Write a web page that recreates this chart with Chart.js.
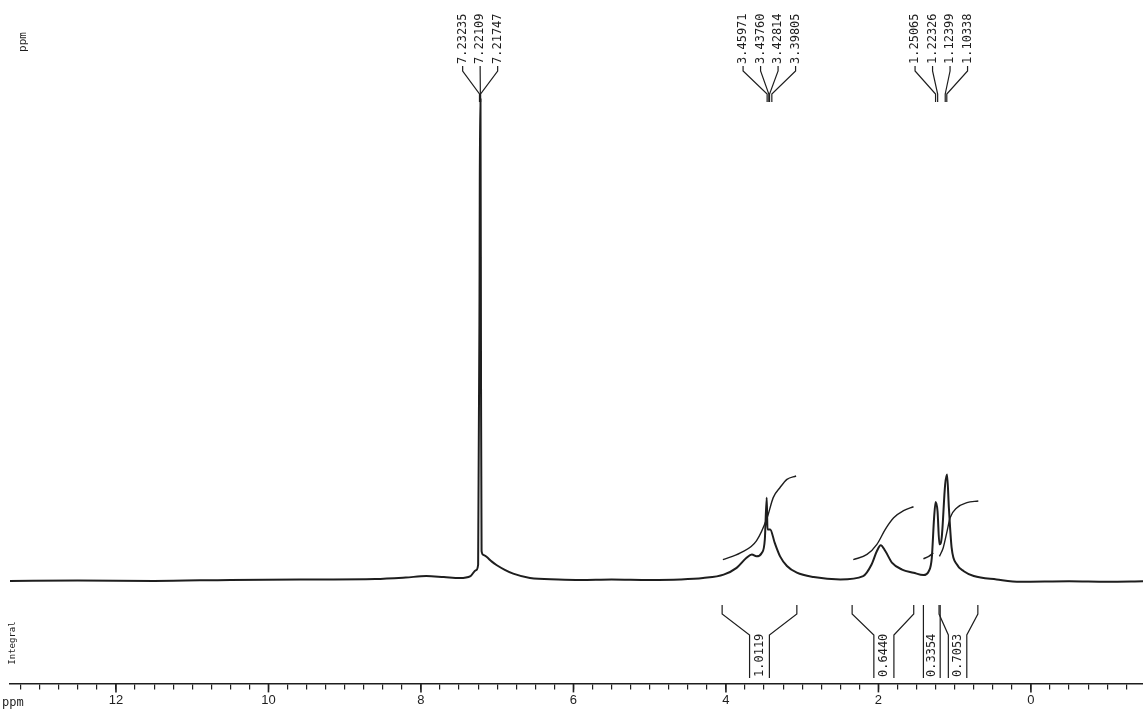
<!DOCTYPE html>
<html>
<head>
<meta charset="utf-8">
<script src="https://cdn.jsdelivr.net/npm/chart.js@4"></script>
<style>
  html, body { margin: 0; padding: 0; background: #fff; }
  #wrap { width: 1143px; height: 713px; position: relative; }
</style>
</head>
<body>
<div id="wrap"><canvas id="nmrChart"></canvas></div>
<script>
// spectrum trace (chemical shift in ppm, relative intensity)
const shiftPpm = [13.39, 12.5, 11.5, 10.5, 9.5, 8.6, 8.2, 7.93, 7.7, 7.49, 7.35, 7.28, 7.25,
    7.232, 7.225, 7.219, 7.212, 7.205, 7.18, 7.14, 7.07, 7.01, 6.9, 6.79, 6.57, 6.2, 5.91, 5.5, 5.0,
    4.6, 4.3, 4.03, 3.86, 3.73, 3.66, 3.60, 3.53, 3.49, 3.465, 3.455, 3.42, 3.36, 3.29, 3.20, 3.07,
    2.85, 2.50, 2.20, 2.09, 2.02, 1.97, 1.91, 1.82, 1.69, 1.54, 1.41, 1.34, 1.30, 1.27, 1.25, 1.225,
    1.20, 1.17, 1.125, 1.10, 1.076, 1.04, 0.97, 0.88, 0.75, 0.45, 0.14, -0.5, -1.0, -1.47];
const intensity = [0.0, 0.1, 0.0, 0.2, 0.3, 0.4, 0.7, 1.0, 0.8, 0.6, 1.0, 2.2, 3.4,
    60, 100, 100, 40, 6.2, 5.4, 5.0, 4.0, 3.3, 2.3, 1.5, 0.6, 0.3, 0.2, 0.3, 0.2,
    0.3, 0.6, 1.3, 2.7, 4.8, 5.5, 5.1, 5.8, 8.6, 17.3, 10.7, 10.7, 7.9, 5.1, 3.1, 1.7,
    0.8, 0.3, 1.0, 3.4, 6.2, 7.4, 6.2, 3.75, 2.35, 1.7, 1.2, 2.0, 4.8, 13.1, 16.4, 14.5,
    7.6, 9.0, 20.0, 22.1, 15.2, 6.9, 3.4, 2.0, 1.0, 0.3, -0.2, -0.1, -0.2, -0.1];

// integral curves drawn over the multiplets
const integ1Ppm = [4.04, 3.81, 3.60, 3.46, 3.38, 3.29, 3.20, 3.08];
const integ1Val = [4.4, 5.8, 8.3, 13.1, 17.3, 19.4, 21.1, 21.8];
const integ2Ppm = [2.33, 2.15, 2.02, 1.91, 1.80, 1.67, 1.54];
const integ2Val = [4.4, 5.5, 7.6, 10.7, 13.1, 14.6, 15.4];
const integ3Ppm = [1.41, 1.34, 1.28];
const integ3Val = [4.6, 5.1, 5.8];
const integ4Ppm = [1.20, 1.15, 1.10, 1.06, 0.97, 0.84, 0.69];
const integ4Val = [5.1, 6.9, 10.3, 13.1, 15.2, 16.25, 16.6];

// peak picking labels
const peakGroups = [
    ["7.23235", "7.22109", "7.21747"],
    ["3.45971", "3.43760", "3.42814", "3.39805"],
    ["1.25065", "1.22326", "1.12399", "1.10338"]
];

// integral regions: outer left, inner left, inner right, outer right (ppm)
const integralRegions = [
    [4.05, 3.69, 3.43, 3.07],
    [2.345, 2.06, 1.797, 1.537],
    [1.41, 1.41, 1.19, 1.19],
    [1.205, 1.083, 0.841, 0.696]
];
const integralValues = ["1.0119", "0.6440", "0.3354", "0.7053"];

const ink = "#1e1e1e";
Chart.defaults.font.family = "'Liberation Sans', Arial, sans-serif";

function toPoints(xs, ys) {
    return xs.map((x, i) => ({ x: x, y: ys[i] }));
}

function lineSet(xs, ys, width) {
    return {
        data: toPoints(xs, ys),
        borderColor: ink,
        borderWidth: width,
        pointRadius: 0,
        fill: false,
        cubicInterpolationMode: "monotone"
    };
}

function verticalText(ctx, text, x, y, align) {
    ctx.save();
    ctx.translate(x, y);
    ctx.rotate(-Math.PI / 2);
    ctx.textAlign = align;
    ctx.textBaseline = "middle";
    ctx.fillText(text, 0, 0);
    ctx.restore();
}

const annotations = {
    id: "nmrAnnotations",
    afterDraw(chart) {
        const ctx = chart.ctx;
        const xs = chart.scales.x;
        const axisY = chart.chartArea.bottom;
        ctx.save();
        ctx.strokeStyle = ink;
        ctx.fillStyle = ink;

        // longer marks on the labelled ticks
        ctx.lineWidth = 1.6;
        xs.ticks.forEach(t => {
            if (Math.abs(t.value % 2) < 1e-6) {
                const px = xs.getPixelForValue(t.value);
                ctx.beginPath();
                ctx.moveTo(px, axisY);
                ctx.lineTo(px, axisY + 9);
                ctx.stroke();
            }
        });

        // peak label fans
        ctx.lineWidth = 1.2;
        ctx.font = "12px 'DejaVu Sans Mono', monospace";
        peakGroups.forEach(group => {
            const px = group.map(v => xs.getPixelForValue(parseFloat(v)));
            const mid = px.reduce((a, b) => a + b, 0) / px.length;
            const gap = 17.5;
            group.forEach((label, i) => {
                const lx = mid + (i - (group.length - 1) / 2) * gap;
                ctx.beginPath();
                ctx.moveTo(lx, 66);
                ctx.lineTo(lx, 71);
                ctx.lineTo(px[i], 94);
                ctx.lineTo(px[i], 102);
                ctx.stroke();
                verticalText(ctx, label, lx, 64, "left");
            });
        });

        // integral brackets
        ctx.font = "12px 'DejaVu Sans Mono', monospace";
        integralRegions.forEach((r, k) => {
            const p = r.map(v => xs.getPixelForValue(v));
            ctx.beginPath();
            ctx.moveTo(p[0], 605);
            ctx.lineTo(p[0], 614);
            ctx.lineTo(p[1], 635);
            ctx.lineTo(p[1], 678);
            ctx.moveTo(p[3], 605);
            ctx.lineTo(p[3], 614);
            ctx.lineTo(p[2], 635);
            ctx.lineTo(p[2], 678);
            ctx.stroke();
            verticalText(ctx, integralValues[k], (p[1] + p[2]) / 2, 677, "left");
        });

        // axis captions
        ctx.font = "11px 'DejaVu Sans Mono', monospace";
        verticalText(ctx, "ppm", 23, 42, "center");
        ctx.font = "9px 'DejaVu Sans Mono', monospace";
        verticalText(ctx, "Integral", 13, 643, "center");

        ctx.font = "12px 'DejaVu Sans Mono', monospace";
        ctx.textAlign = "left";
        ctx.textBaseline = "middle";
        ctx.fillText("ppm", 2, 703);
        ctx.restore();
    }
};

new Chart(document.getElementById("nmrChart"), {
    type: "line",
    data: {
        datasets: [
            lineSet(shiftPpm, intensity, 2),
            lineSet(integ1Ppm, integ1Val, 1.4),
            lineSet(integ2Ppm, integ2Val, 1.4),
            lineSet(integ3Ppm, integ3Val, 1.4),
            lineSet(integ4Ppm, integ4Val, 1.4)
        ]
    },
    options: {
        responsive: true,
        maintainAspectRatio: false,
        animation: false,
        layout: { padding: { left: 10, right: 0, top: 0, bottom: 2 } },
        plugins: {
            legend: { display: false },
            tooltip: { enabled: false }
        },
        scales: {
            x: {
                type: "linear",
                reverse: true,
                min: -1.47,
                max: 13.39,
                border: { display: true, color: ink, width: 1.5 },
                grid: {
                    drawOnChartArea: false,
                    drawTicks: true,
                    tickLength: 6,
                    color: ink,
                    lineWidth: 1.2
                },
                ticks: {
                    stepSize: 0.25,
                    includeBounds: false,
                    autoSkip: false,
                    maxRotation: 0,
                    padding: 3,
                    color: ink,
                    font: { size: 13 },
                    callback: v => (Math.abs(v % 2) < 1e-6 ? String(Math.round(v)) : "")
                }
            },
            y: {
                display: false,
                min: -21.3,
                max: 120.7
            }
        }
    },
    plugins: [annotations]
});
</script>
</body>
</html>
